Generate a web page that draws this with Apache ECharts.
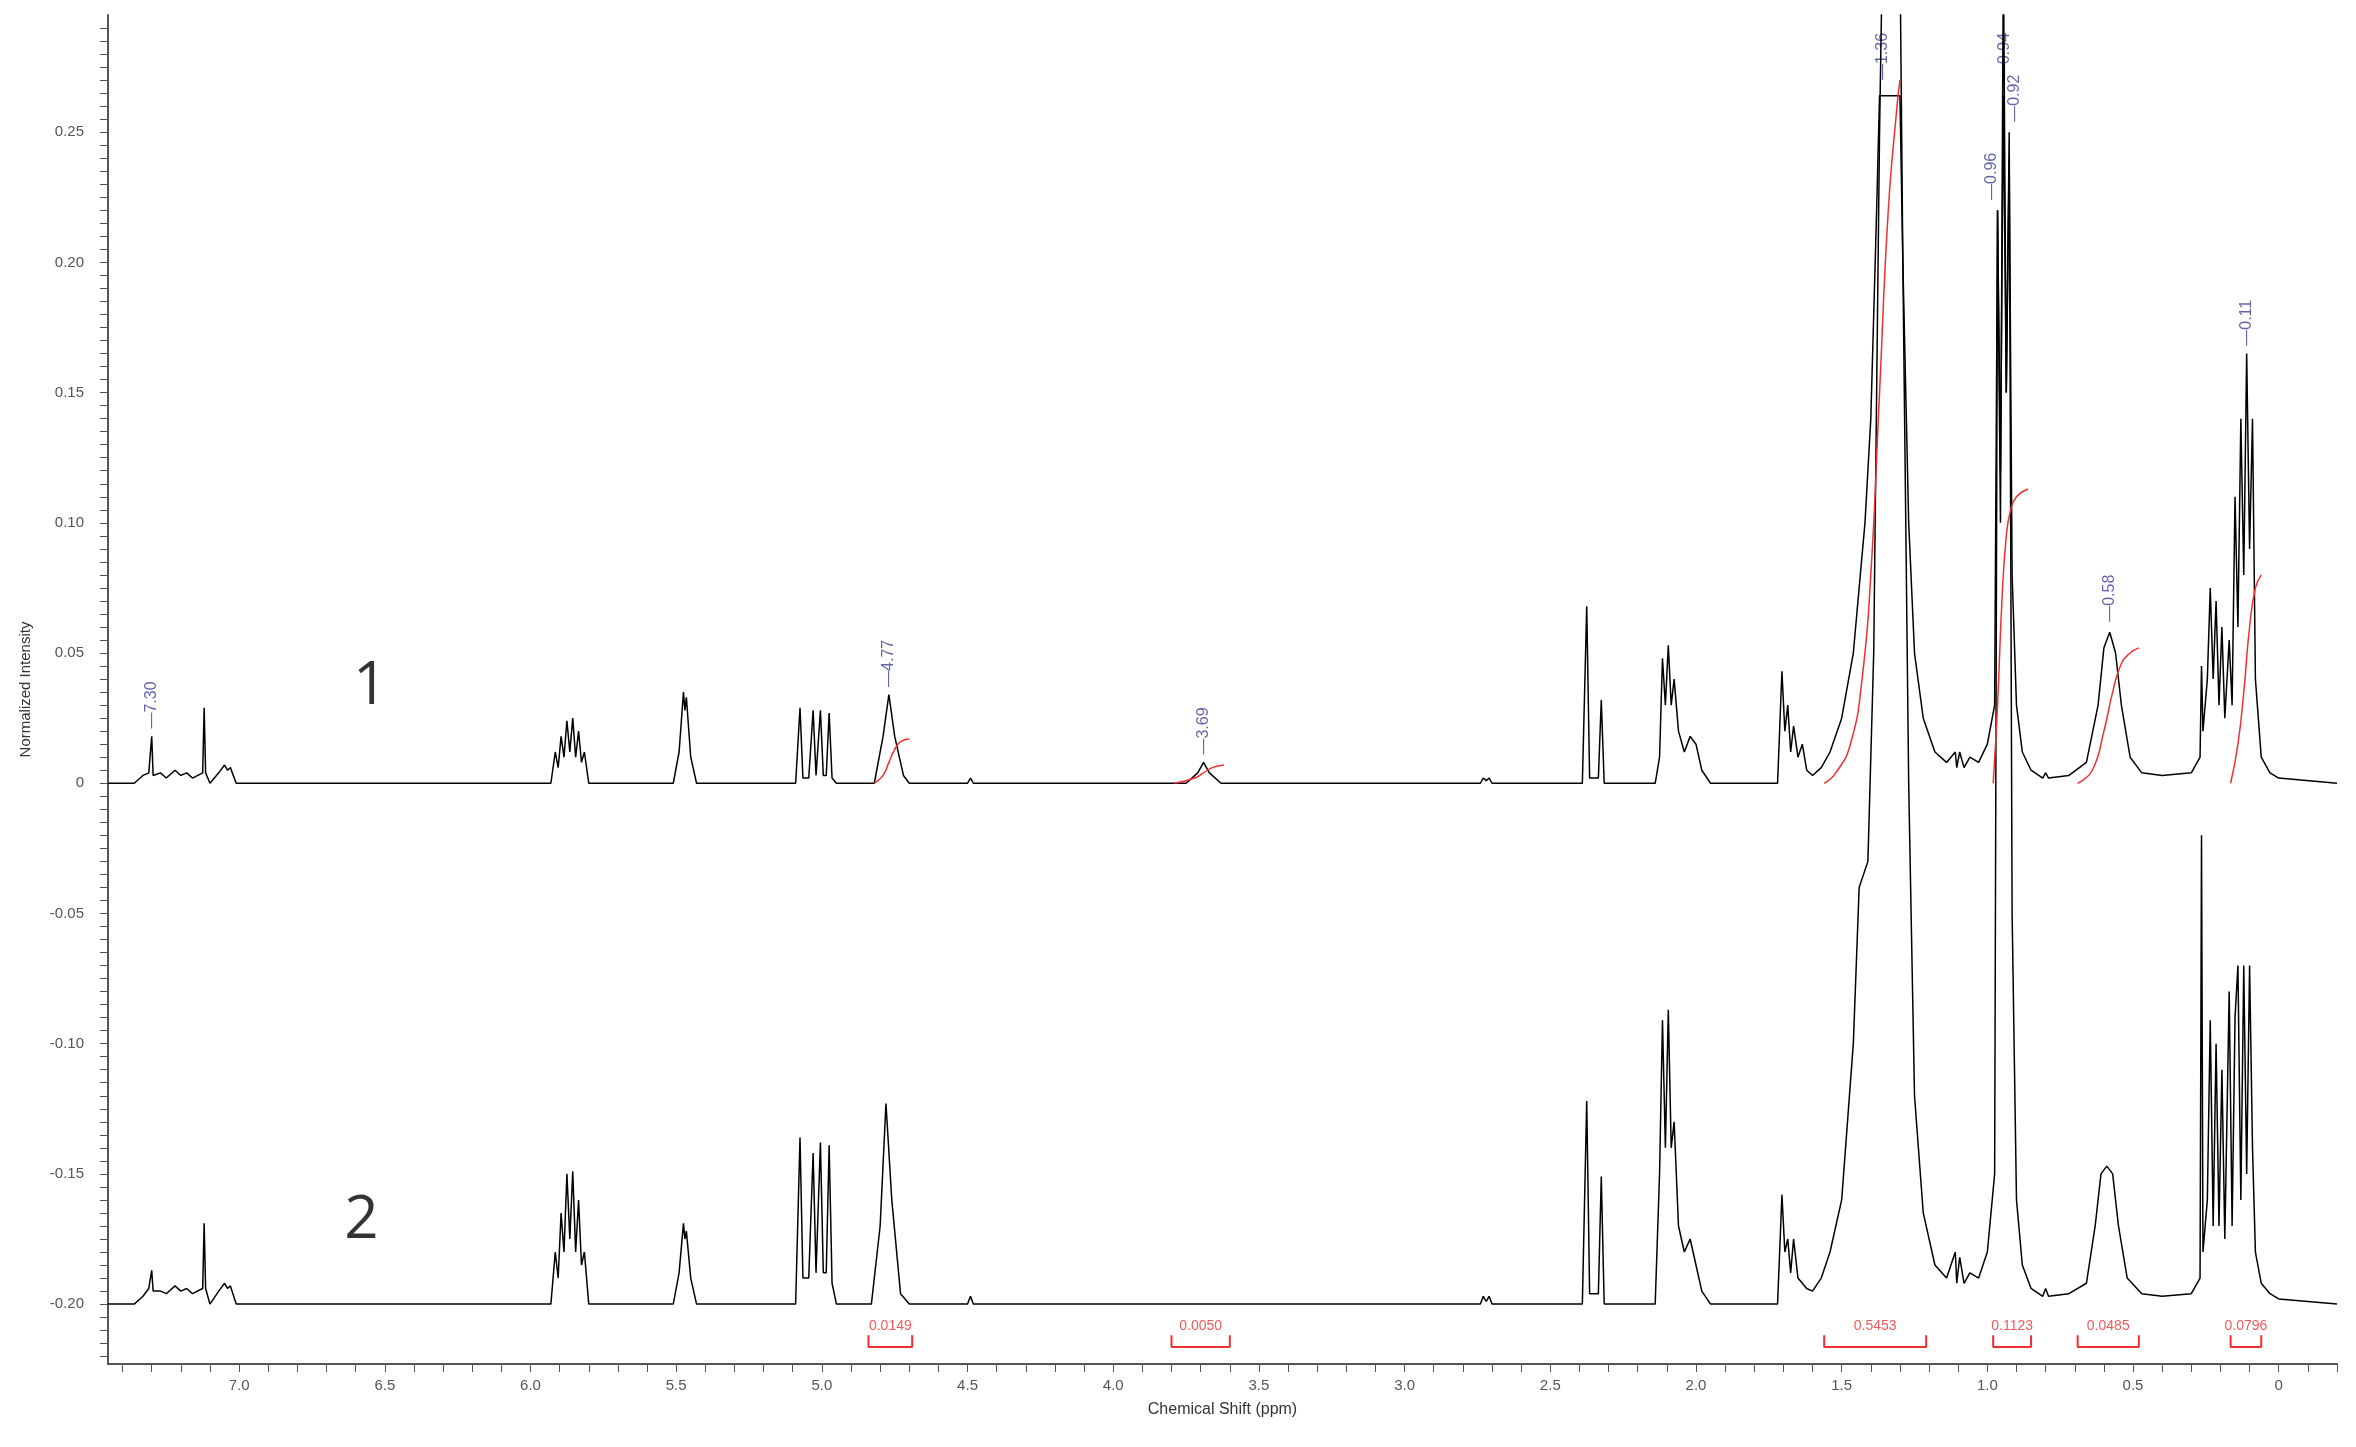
<!DOCTYPE html>
<html><head><meta charset="utf-8">
<script src="https://cdn.jsdelivr.net/npm/echarts@6/dist/echarts.min.js"></script>
<style>html,body{margin:0;padding:0;background:#fff}#c{width:2356px;height:1447px}</style>
</head><body><div id="c"></div>
<script>
// Spectrum 1: [ppm, intensity]
const spectrum1 = [[7.45,0],[7.36,0],[7.33,0.003],[7.31,0.004],[7.30,0.018],[7.295,0.003],[7.27,0.004],[7.25,0.002],[7.22,0.005],[7.20,0.003],[7.18,0.004],[7.16,0.002],[7.125,0.004],[7.12,0.029],[7.115,0.004],[7.10,0],[7.07,0.004],[7.05,0.007],[7.04,0.005],[7.03,0.006],[7.01,0],
[5.93,0],[5.915,0.012],[5.905,0.006],[5.895,0.018],[5.885,0.01],[5.875,0.024],[5.865,0.012],[5.855,0.025],[5.845,0.01],[5.835,0.02],[5.825,0.008],[5.815,0.012],[5.80,0],
[5.51,0],[5.49,0.012],[5.475,0.035],[5.47,0.028],[5.465,0.033],[5.45,0.01],[5.43,0],
[5.09,0],[5.075,0.029],[5.065,0.002],[5.045,0.002],[5.03,0.028],[5.02,0.003],[5.005,0.028],[4.995,0.003],[4.985,0.003],[4.975,0.027],[4.965,0.002],[4.95,0],
[4.82,0],[4.79,0.018],[4.77,0.034],[4.75,0.018],[4.72,0.003],[4.70,0],[4.50,0],[4.49,0.002],[4.48,0],
[3.75,0],[3.71,0.004],[3.69,0.008],[3.67,0.004],[3.63,0],[2.74,0],[2.73,0.002],[2.72,0.001],[2.71,0.002],[2.70,0],
[2.39,0],[2.375,0.068],[2.365,0.002],[2.335,0.002],[2.325,0.032],[2.315,0],
[2.14,0],[2.125,0.01],[2.115,0.048],[2.105,0.03],[2.095,0.053],[2.085,0.03],[2.075,0.04],[2.06,0.02],[2.04,0.012],[2.02,0.018],[2.00,0.015],[1.98,0.005],[1.95,0],
[1.72,0],[1.705,0.043],[1.695,0.02],[1.685,0.03],[1.675,0.012],[1.665,0.022],[1.65,0.01],[1.635,0.015],[1.62,0.005],[1.60,0.003],[1.57,0.006],[1.54,0.012],[1.50,0.025],[1.46,0.05],[1.42,0.10],[1.40,0.14],[1.38,0.22],[1.37,0.264],[1.30,0.264],[1.29,0.2],[1.27,0.1],[1.25,0.05],[1.22,0.025],[1.18,0.012],[1.14,0.008],[1.11,0.012],[1.105,0.006],[1.095,0.012],[1.08,0.006],[1.06,0.01],[1.03,0.008],[1.00,0.015],
[0.975,0.03],[0.965,0.22],[0.955,0.12],[0.945,0.264],[0.935,0.15],[0.925,0.24],[0.915,0.08],[0.90,0.03],[0.88,0.012],[0.85,0.005],[0.81,0.002],[0.80,0.004],[0.79,0.002],[0.72,0.003],
[0.66,0.008],[0.62,0.03],[0.60,0.052],[0.58,0.058],[0.56,0.05],[0.54,0.03],[0.51,0.01],[0.47,0.004],[0.40,0.003],[0.30,0.004],
[0.27,0.01],[0.265,0.045],[0.26,0.02],[0.245,0.04],[0.235,0.075],[0.225,0.04],[0.215,0.07],[0.205,0.03],[0.195,0.06],[0.185,0.025],[0.17,0.055],[0.16,0.03],[0.15,0.11],[0.14,0.06],[0.13,0.14],[0.12,0.08],[0.11,0.165],[0.10,0.09],[0.09,0.14],[0.08,0.04],[0.06,0.01],[0.03,0.004],[0,0.002],[-0.2,0]];

// Spectrum 2: [ppm, intensity above its own baseline]
const spectrum2Baseline = -0.20;
const spectrum2 = [[7.45,0],[7.36,0],[7.33,0.003],[7.31,0.006],[7.30,0.013],[7.295,0.005],[7.27,0.005],[7.25,0.004],[7.22,0.007],[7.20,0.005],[7.18,0.006],[7.16,0.004],[7.125,0.006],[7.12,0.031],[7.115,0.006],[7.10,0],[7.07,0.005],[7.05,0.008],[7.04,0.006],[7.03,0.007],[7.01,0],
[5.93,0],[5.915,0.02],[5.905,0.01],[5.895,0.035],[5.885,0.02],[5.875,0.05],[5.865,0.025],[5.855,0.051],[5.845,0.02],[5.835,0.04],[5.825,0.015],[5.815,0.02],[5.80,0],
[5.51,0],[5.49,0.012],[5.475,0.031],[5.47,0.025],[5.465,0.028],[5.45,0.01],[5.43,0],
[5.09,0],[5.075,0.064],[5.065,0.01],[5.045,0.01],[5.03,0.058],[5.02,0.012],[5.005,0.062],[4.995,0.012],[4.985,0.012],[4.975,0.061],[4.965,0.008],[4.95,0],
[4.83,0],[4.80,0.03],[4.78,0.077],[4.76,0.04],[4.73,0.004],[4.70,0],[4.50,0],[4.49,0.003],[4.48,0],
[2.74,0],[2.73,0.003],[2.72,0.001],[2.71,0.003],[2.70,0],
[2.39,0],[2.375,0.078],[2.365,0.004],[2.335,0.004],[2.325,0.049],[2.315,0],
[2.14,0],[2.125,0.05],[2.115,0.109],[2.105,0.06],[2.095,0.113],[2.085,0.06],[2.075,0.07],[2.06,0.03],[2.04,0.02],[2.02,0.025],[2.00,0.015],[1.98,0.005],[1.95,0],
[1.72,0],[1.705,0.042],[1.695,0.02],[1.685,0.025],[1.675,0.012],[1.665,0.025],[1.65,0.01],[1.62,0.006],[1.60,0.005],[1.57,0.01],[1.54,0.02],[1.50,0.04],[1.46,0.10],[1.44,0.16],[1.41,0.17],[1.39,0.25],[1.37,0.45],[1.36,0.52],[1.30,0.52],[1.29,0.4],[1.27,0.2],[1.25,0.08],[1.22,0.035],[1.18,0.015],[1.14,0.01],[1.11,0.02],[1.105,0.008],[1.095,0.018],[1.08,0.008],[1.06,0.012],[1.03,0.01],[1.00,0.02],
[0.975,0.05],[0.965,0.42],[0.955,0.3],[0.945,0.52],[0.935,0.35],[0.925,0.45],[0.915,0.15],[0.90,0.04],[0.88,0.015],[0.85,0.006],[0.81,0.003],[0.80,0.006],[0.79,0.003],[0.72,0.004],
[0.66,0.008],[0.63,0.03],[0.61,0.05],[0.59,0.053],[0.57,0.05],[0.55,0.03],[0.52,0.01],[0.47,0.004],[0.40,0.003],[0.30,0.004],
[0.27,0.01],[0.265,0.18],[0.26,0.02],[0.245,0.04],[0.235,0.109],[0.225,0.03],[0.215,0.1],[0.205,0.03],[0.195,0.09],[0.185,0.025],[0.17,0.12],[0.16,0.03],[0.15,0.11],[0.14,0.13],[0.13,0.04],[0.12,0.13],[0.11,0.05],[0.10,0.13],[0.09,0.06],[0.08,0.02],[0.06,0.008],[0.03,0.004],[0,0.002],[-0.2,0]];

// Integral curves on spectrum 1
const integral1 = [[4.82,0],[4.79,0.003],[4.77,0.008],[4.75,0.013],[4.73,0.016],[4.70,0.017]];
const integral2 = [[3.79,0],[3.72,0.002],[3.69,0.004],[3.66,0.006],[3.62,0.007]];
const integral3 = [[1.56,0],[1.52,0.004],[1.47,0.015],[1.43,0.04],[1.40,0.08],[1.37,0.15],[1.34,0.22],[1.31,0.26],[1.30,0.27]];
const integral4 = [[0.98,0],[0.965,0.03],[0.95,0.07],[0.935,0.095],[0.92,0.105],[0.90,0.11],[0.86,0.113]];
const integral5 = [[0.69,0],[0.64,0.005],[0.60,0.02],[0.57,0.035],[0.54,0.046],[0.51,0.05],[0.48,0.052]];
const integral6 = [[0.165,0],[0.14,0.015],[0.12,0.035],[0.10,0.06],[0.08,0.075],[0.06,0.08]];

// Integral ranges and values
const integralRanges = [[4.84,4.69],[3.80,3.60],[1.56,1.21],[0.98,0.85],[0.69,0.48],[0.165,0.06]];
const integralValues = ['0.0149','0.0050','0.5453','0.1123','0.0485','0.0796'];

// Peak labels [ppm, anchor intensity, text]
const peakLabels = [[7.30,0.021,'7.30'],[4.77,0.037,'4.77'],[3.69,0.011,'3.69'],[1.36,0.27,'1.36'],[0.94,0.27,'0.94'],[0.985,0.224,'0.96'],[0.905,0.254,'0.92'],[0.58,0.062,'0.58'],[0.11,0.168,'0.11']];

// Trace labels
const traceLabels = [[6.55,0.037,'1'],[6.58,-0.168,'2']];

const xLabelValues = [0,0.5,1.0,1.5,2.0,2.5,3.0,3.5,4.0,4.5,5.0,5.5,6.0,6.5,7.0];
const yLabelValues = [-0.20,-0.15,-0.10,-0.05,0,0.05,0.10,0.15,0.20,0.25];

const xTicks=[]; for(let i=-2;i<=74;i++) xTicks.push(+(i/10).toFixed(1));
const yTicks=[]; for(let i=-44;i<=58;i++) yTicks.push(+(i*0.005).toFixed(3));

const chart = echarts.init(document.getElementById('c'));
const red = '#f03030';
const series = [
 {type:'line',data:spectrum1,showSymbol:false,lineStyle:{color:'#000',width:1.5},z:3,clip:true,animation:false},
 {type:'line',data:spectrum2.map(p=>[p[0],p[1]+spectrum2Baseline]),showSymbol:false,lineStyle:{color:'#000',width:1.5},z:3,clip:true,animation:false}
];
[integral1,integral2,integral3,integral4,integral5,integral6].forEach(d=>series.push({type:'line',data:d,smooth:true,showSymbol:false,lineStyle:{color:red,width:1.5},z:4,animation:false}));
integralRanges.forEach((r,i)=>{
 series.push({type:'line',data:[[r[0],-0.212],[r[0],-0.2165],[r[1],-0.2165],[r[1],-0.212]],showSymbol:false,lineStyle:{color:red,width:2},animation:false});
});
series.push({type:'scatter',symbolSize:0,animation:false,
 data:integralRanges.map((r,i)=>({value:[(r[0]+r[1])/2,-0.2085],name:integralValues[i]})),
 label:{show:true,position:'inside',formatter:p=>p.name,color:red,fontSize:14,fontFamily:'Liberation Sans Narrow, Arial'}});
series.push({type:'scatter',symbolSize:0,animation:false,
 data:peakLabels.map(p=>({value:[p[0],p[1]],name:p[2]})),
 label:{show:true,position:'inside',rotate:90,align:'left',verticalAlign:'middle',formatter:p=>'—'+p.name,color:'#3c3c96',fontSize:16,fontFamily:'Liberation Sans Narrow, Arial'}});
series.push({type:'scatter',symbolSize:0,animation:false,
 data:traceLabels.map(p=>({value:[p[0],p[1]],name:p[2]})),
 label:{show:true,position:'inside',formatter:p=>p.name,color:'#000',fontSize:60,fontFamily:'Open Sans'}});

chart.setOption({
 animation:false,
 backgroundColor:'#fff',
 grid:{left:108,right:19,top:15,bottom:83},
 xAxis:{type:'value',inverse:true,min:-0.2,max:7.45,
  name:'Chemical Shift (ppm)',nameLocation:'middle',nameGap:38,nameTextStyle:{fontSize:16,color:'#333',fontFamily:'Liberation Sans Narrow, Arial'},
  axisLine:{onZero:false,lineStyle:{color:'#555',width:2}},
  axisTick:{customValues:xTicks,length:8,lineStyle:{color:'#555'}},
  axisLabel:{customValues:xLabelValues,formatter:v=>v===0?'0':v.toFixed(1),fontSize:15,color:'#555',margin:14},
  splitLine:{show:false}},
 yAxis:{type:'value',min:-0.223,max:0.295,
  name:'Normalized Intensity',nameLocation:'middle',nameGap:75,nameTextStyle:{fontSize:15,color:'#333',fontFamily:'Liberation Sans Narrow, Arial'},
  axisLine:{onZero:false,lineStyle:{color:'#555',width:2}},
  axisTick:{customValues:yTicks,length:8,lineStyle:{color:'#555'}},
  axisLabel:{customValues:yLabelValues,formatter:v=>Math.abs(v)<1e-9?'0':v.toFixed(2),fontSize:15,color:'#555',margin:24},
  splitLine:{show:false}},
 series
});
</script></body></html>
